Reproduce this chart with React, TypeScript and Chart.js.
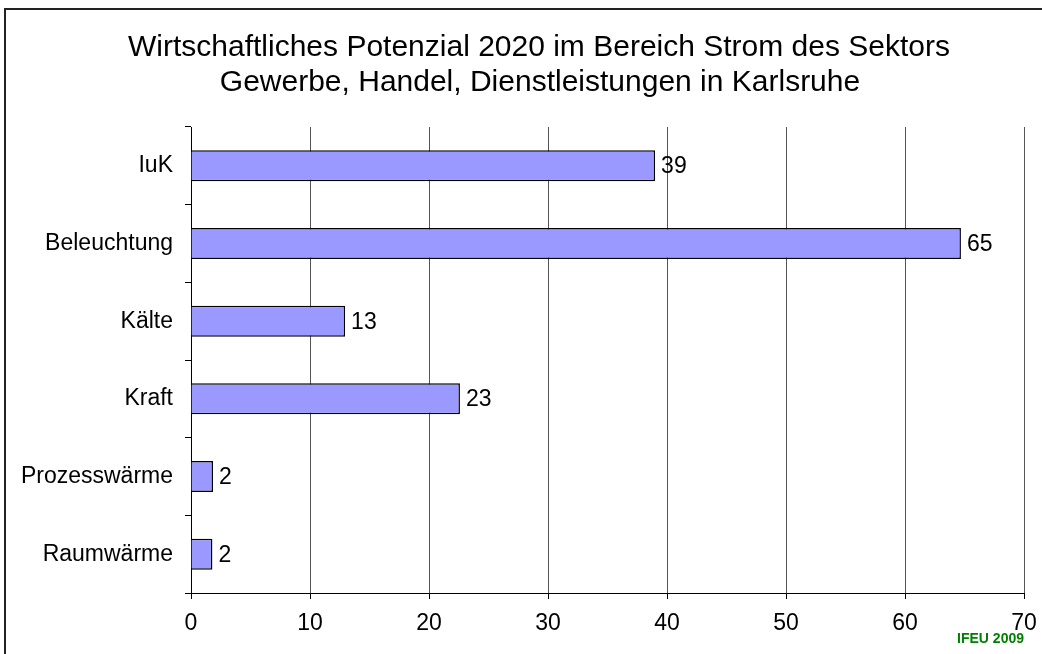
import React, { useEffect, useRef } from "react";
import { Chart, registerables } from "chart.js";

Chart.register(...registerables);

const categories = ["IuK", "Beleuchtung", "Kälte", "Kraft", "Prozesswärme", "Raumwärme"];
const values = [39.0, 64.7, 12.95, 22.6, 1.85, 1.8];
const valueLabels = ["39", "65", "13", "23", "2", "2"];
const xMin = 0;
const xMax = 70;
const xStep = 10;
const titleLines = [
  "Wirtschaftliches Potenzial 2020 im Bereich Strom des Sektors",
  "Gewerbe, Handel, Dienstleistungen in Karlsruhe",
];
const sourceNote = "IFEU 2009";

const FONT = "'Liberation Sans', Arial, sans-serif";

export default function App() {
  const ref = useRef<HTMLCanvasElement | null>(null);

  useEffect(() => {
    if (!ref.current) return;

    const framePlugin = {
      id: "frame",
      beforeDraw(chart: any) {
        const ctx = chart.ctx;
        ctx.save();
        ctx.strokeStyle = "#222";
        ctx.lineWidth = 2;
        ctx.beginPath();
        ctx.moveTo(5, 660);
        ctx.lineTo(5, 9);
        ctx.lineTo(1050, 9);
        ctx.stroke();
        ctx.restore();
      },
      afterDraw(chart: any) {
        const ctx = chart.ctx;
        ctx.save();
        ctx.fillStyle = "#000";
        ctx.font = `30px ${FONT}`;
        ctx.textAlign = "center";
        ctx.textBaseline = "alphabetic";
        ctx.fillText(titleLines[0], 539, 56);
        ctx.fillText(titleLines[1], 540, 91);
        ctx.font = `bold 14px ${FONT}`;
        ctx.fillStyle = "#008000";
        ctx.textAlign = "right";
        ctx.fillText(sourceNote, 1024, 643);
        ctx.restore();
      },
    };

    const valueLabelPlugin = {
      id: "valueLabels",
      afterDatasetsDraw(chart: any) {
        const ctx = chart.ctx;
        const meta = chart.getDatasetMeta(0);
        ctx.save();
        ctx.fillStyle = "#000";
        ctx.font = `23px ${FONT}`;
        ctx.textAlign = "left";
        ctx.textBaseline = "middle";
        meta.data.forEach((el: any, i: number) => {
          ctx.fillText(valueLabels[i], el.x + 6, el.y + 1);
        });
        ctx.restore();
      },
    };

    const chart = new Chart(ref.current, {
      type: "bar",
      data: {
        labels: categories,
        datasets: [
          {
            data: values,
            backgroundColor: "#9999FF",
            borderColor: "#000",
            borderWidth: 1.5,
            barPercentage: 0.4,
            categoryPercentage: 1,
          },
        ],
      },
      options: {
        indexAxis: "y",
        responsive: false,
        animation: false,
        layout: { padding: { top: 127, right: 18, left: 0, bottom: 0 } },
        plugins: {
          legend: { display: false },
          title: { display: false },
          tooltip: { enabled: false },
        },
        scales: {
          x: {
            type: "linear",
            min: xMin,
            max: xMax,
            ticks: {
              stepSize: xStep,
              color: "#000",
              font: { family: FONT, size: 23 },
              padding: 11,
              maxRotation: 0,
            },
            grid: {
              color: "#555",
              lineWidth: 1,
              drawTicks: true,
              tickLength: 6,
              tickColor: "#000",
            },
            border: { display: true, color: "#000", width: 1 },
            afterFit(scale: any) {
              scale.height = 61;
              scale.paddingRight = 0;
              scale.paddingLeft = 0;
            },
          },
          y: {
            type: "category",
            offset: true,
            ticks: {
              color: "#000",
              font: { family: FONT, size: 23 },
              padding: 12,
            },
            grid: {
              offset: true,
              drawOnChartArea: false,
              drawTicks: true,
              tickLength: 6,
              color: "#000",
            },
            border: { display: true, color: "#000", width: 1 },
            afterFit(scale: any) {
              scale.width = 191;
            },
          },
        },
      },
      plugins: [framePlugin, valueLabelPlugin],
    } as any);

    return () => chart.destroy();
  }, []);

  return (
    <div style={{ position: "fixed", left: 0, top: 0, width: 1042, height: 654, background: "#fff" }}>
      <canvas ref={ref} width={1042} height={654} style={{ display: "block", width: 1042, height: 654 }} />
    </div>
  );
}
